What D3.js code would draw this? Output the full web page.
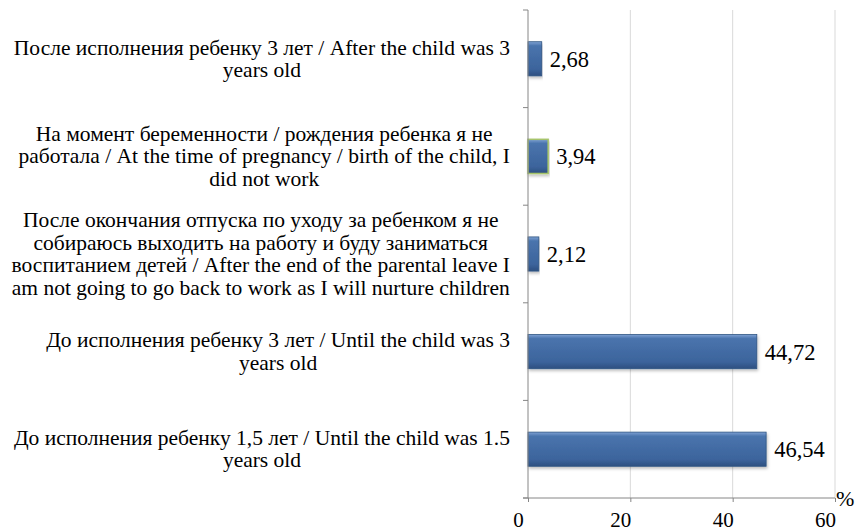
<!DOCTYPE html>
<html>
<head>
<meta charset="utf-8">
<script src="https://cdn.jsdelivr.net/npm/d3@7"></script>
<style>
  body { margin: 0; background: #fff; }
</style>
</head>
<body>
<svg id="drawing_region"></svg>
<script>
// categories top to bottom, each one split into its printed lines
const categories = [
    ["После исполнения ребенку 3 лет / After the child was 3", "years old"],
    ["На момент беременности / рождения ребенка я не", "работала / At the time of pregnancy / birth of the child, I", "did not work"],
    ["После окончания отпуска по уходу за ребенком я не", "собираюсь выходить  на работу и буду заниматься", "воспитанием детей / After the end of the parental leave I", "am not going to go back to work as I will nurture children"],
    ["До исполнения ребенку 3 лет / Until the child was 3", "years old"],
    ["До исполнения ребенку 1,5 лет / Until the child was 1.5", "years old"]
];
const values = [2.68, 3.94, 2.12, 44.72, 46.54];
const valueLabels = ["2,68", "3,94", "2,12", "44,72", "46,54"];
const xTicks = [0, 20, 40, 60];

const serif = "Liberation Serif";

const config = {
    width: 858,
    height: 532,
    margin: {top: 10, right: 23, bottom: 34, left: 528}
};

const svg = d3.select('#drawing_region')
    .attr('width', config.width)
    .attr('height', config.height)
    .style('font-family', serif);

const inner_width = config.width - config.margin.left - config.margin.right;
const inner_height = config.height - config.margin.top - config.margin.bottom;

const chart = svg.append('g')
    .attr('transform', `translate(${config.margin.left}, ${config.margin.top})`);

const xscale = d3.scaleLinear().domain([0, 60]).range([0, 307]);
const yscale = d3.scaleBand().domain(d3.range(categories.length)).range([0, inner_height]).paddingInner(0.65).paddingOuter(0.325);
const band = d3.scaleBand().domain(d3.range(categories.length)).range([0, inner_height]);

// bar gradient and soft shadow
const defs = svg.append('defs');
const grad = defs.append('linearGradient').attr('id', 'barGrad')
    .attr('x1', 0).attr('y1', 0).attr('x2', 0).attr('y2', 1);
grad.append('stop').attr('offset', '0%').attr('stop-color', '#7fa2d4');
grad.append('stop').attr('offset', '12%').attr('stop-color', '#4a74ad');
grad.append('stop').attr('offset', '80%').attr('stop-color', '#3c649c');
grad.append('stop').attr('offset', '100%').attr('stop-color', '#2d4f80');

const shadow = defs.append('filter').attr('id', 'shadow')
    .attr('x', '-5%').attr('y', '-20%').attr('width', '110%').attr('height', '150%');
shadow.append('feDropShadow')
    .attr('dx', 1).attr('dy', 2).attr('stdDeviation', 1.5)
    .attr('flood-color', '#000').attr('flood-opacity', 0.25);

// gridlines
chart.append('g')
    .selectAll('line')
    .data(xTicks.slice(1))
    .join('line')
    .attr('x1', d => xscale(d)).attr('x2', d => xscale(d))
    .attr('y1', 0).attr('y2', inner_height)
    .attr('stroke', '#d9d9d9').attr('stroke-width', 1);

// bars
chart.append('g')
    .selectAll('rect')
    .data(values)
    .join('rect')
    .attr('x', 0)
    .attr('y', (d, i) => yscale(i))
    .attr('width', d => xscale(d))
    .attr('height', yscale.bandwidth())
    .attr('fill', 'url(#barGrad)')
    .attr('filter', 'url(#shadow)')
    .attr('stroke', (d, i) => i === 1 ? '#a6c46a' : '#2f5583')
    .attr('stroke-width', (d, i) => i === 1 ? 1.5 : 0.8);

// value labels
chart.append('g')
    .selectAll('text')
    .data(values)
    .join('text')
    .attr('x', d => xscale(d) + 8)
    .attr('y', (d, i) => yscale(i) + yscale.bandwidth() / 2 + 8)
    .attr('font-family', serif)
    .attr('font-size', '22.5px')
    .text((d, i) => valueLabels[i]);

// y axis with ticks at band edges
const yaxis = chart.append('g');
yaxis.append('line')
    .attr('x1', 0).attr('x2', 0).attr('y1', 0).attr('y2', inner_height)
    .attr('stroke', '#868686');
yaxis.selectAll('line.tick')
    .data(d3.range(categories.length + 1))
    .join('line')
    .attr('class', 'tick')
    .attr('x1', -5).attr('x2', 0)
    .attr('y1', i => i * band.bandwidth()).attr('y2', i => i * band.bandwidth())
    .attr('stroke', '#868686');

// x axis
const xaxis = d3.axisBottom(xscale).tickValues(xTicks).tickSize(4).tickFormat(d3.format('d'));
const xg = chart.append('g')
    .attr('transform', `translate(0, ${inner_height})`)
    .call(xaxis)
    .attr('font-family', serif);
xg.select('.domain').attr('stroke', '#868686').attr('d', `M-5,0H${xscale(60)}`);
xg.selectAll('.tick line').attr('stroke', '#868686');
xg.selectAll('.tick text')
    .attr('font-family', serif)
    .attr('font-size', '21px')
    .attr('fill', '#000')
    .attr('x', -10)
    .attr('y', 29)
    .attr('dy', 0);

chart.append('text')
    .attr('x', xscale(60) + 1)
    .attr('y', inner_height + 8)
    .attr('font-family', serif)
    .attr('font-size', '22px')
    .text('%');

// category labels
const labelRight = -18;
const lineH = 22.5;
const labels = chart.append('g');
categories.forEach((lines, i) => {
    const g = labels.append('g');
    const cy = band(i) + band.bandwidth() / 2;
    const t = g.append('text')
        .attr('font-family', serif)
        .attr('font-size', '21.5px')
        .attr('text-anchor', 'middle');
    lines.forEach((ln, j) => {
        t.append('tspan')
            .attr('x', 0)
            .attr('y', cy + (j - (lines.length - 1) / 2) * lineH + 7)
            .text(ln);
    });
    const w = d3.max(t.selectAll('tspan').nodes(), n => n.getComputedTextLength());
    t.selectAll('tspan').attr('x', labelRight - w / 2);
});
</script>
</body>
</html>
